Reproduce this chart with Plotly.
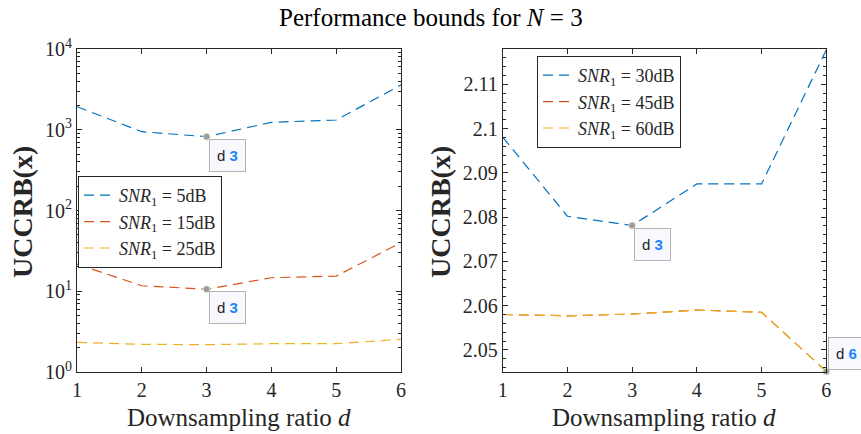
import math
import plotly.graph_objects as go

d = [1, 2, 3, 4, 5, 6]

# left panel (log scale)
snr5 = [1930, 946, 820, 1236, 1320, 3580]
snr15 = [21.7, 11.7, 10.6, 14.7, 15.4, 40]
snr25 = [2.33, 2.2, 2.18, 2.24, 2.24, 2.54]

# right panel
snr30 = [2.0981, 2.0802, 2.0781, 2.0875, 2.0875, 2.1178]
snr45 = [2.0580, 2.0577, 2.0581, 2.0590, 2.0585, 2.0451]
snr60 = [2.0580, 2.0577, 2.0581, 2.0590, 2.0585, 2.0451]

log_ticks = [1, 10, 100, 1000, 10000]
log_labels = ["10<sup>0</sup>", "10<sup>1</sup>", "10<sup>2</sup>", "10<sup>3</sup>", "10<sup>4</sup>"]
lin_ticks = [2.05, 2.06, 2.07, 2.08, 2.09, 2.1, 2.11]
lin_labels = ["2.05", "2.06", "2.07", "2.08", "2.09", "2.1", "2.11"]

blue, red, yellow = "#0072BD", "#D95319", "#EDB120"
serif = "Liberation Serif"
axcol = "#262626"
dash = "10px,6px"

fig = go.Figure()

def line(x, y, name, color, xa, ya, leg):
    fig.add_trace(go.Scatter(x=x, y=y, name=name, mode="lines",
                             line=dict(color=color, width=1.2, dash=dash),
                             xaxis=xa, yaxis=ya, legend=leg))

def lab(db):
    return "<i>SNR</i><sub>1</sub> = %ddB" % db

line(d, snr5, lab(5), blue, "x", "y", "legend")
line(d, snr15, lab(15), red, "x", "y", "legend")
line(d, snr25, lab(25), yellow, "x", "y", "legend")
line(d, snr30, lab(30), blue, "x2", "y2", "legend2")
line(d, snr45, lab(45), red, "x2", "y2", "legend2")
line(d, snr60, lab(60), yellow, "x2", "y2", "legend2")

# datatips
tips = [(2, snr5, "x", "y"), (2, snr15, "x", "y"), (2, snr30, "x2", "y2"), (5, snr60, "x2", "y2")]
for i, ys, xa, ya in tips:
    fig.add_trace(go.Scatter(x=[d[i]], y=[ys[i]], mode="markers", showlegend=False,
                             marker=dict(color="#9c9c9c", size=7, line=dict(color="#e8e8d8", width=1)),
                             xaxis=xa, yaxis=ya, cliponaxis=False))
    top = i == 5
    fig.add_annotation(x=d[i], y=(math.log10(ys[i]) if ya == "y" else ys[i]),
                       xref=xa, yref=ya, showarrow=False,
                       text="d <b><span style='color:#1a85ff'>%d</span></b>" % d[i],
                       font=dict(family="Liberation Sans", size=15, color="#222"),
                       xanchor="left", yanchor="bottom" if top else "top",
                       xshift=2, yshift=2 if top else -2,
                       bgcolor="#f8f8ff", bordercolor="#b4b4b4", borderwidth=1, borderpad=7)

ax_common = dict(showline=True, linecolor=axcol, linewidth=1, mirror="allticks", automargin=False,
                 ticks="inside", ticklen=5, tickcolor=axcol, showgrid=False, zeroline=False,
                 tickfont=dict(family=serif, size=20, color=axcol))

fig.update_layout(
    width=861, height=434, margin=dict(l=0, r=0, t=0, b=0, autoexpand=False),
    plot_bgcolor="white", paper_bgcolor="white",
    xaxis=dict(domain=[77 / 861, 401 / 861], range=[1, 6], tickvals=d, anchor="y", **ax_common),
    yaxis=dict(domain=[1 - 372 / 434, 1 - 49 / 434], type="log", range=[0, 4],
               tickvals=log_ticks, ticktext=log_labels, anchor="x",
               minor=dict(ticks="inside", ticklen=3, dtick="D1", tickcolor=axcol), **ax_common),
    xaxis2=dict(domain=[502.7 / 861, 826.3 / 861], range=[1, 6], tickvals=d, anchor="y2", **ax_common),
    yaxis2=dict(domain=[1 - 372 / 434, 1 - 49 / 434], range=[2.045, 2.118],
                tickvals=lin_ticks, ticktext=lin_labels, anchor="x2",
                minor=dict(ticks="inside", ticklen=3, dtick=0.002, tick0=2.0, tickcolor=axcol), **ax_common),
    legend=dict(x=78 / 861, y=1 - 176 / 434, xanchor="left", yanchor="top",
                bgcolor="white", bordercolor=axcol, borderwidth=1, entrywidth=172,
                font=dict(family=serif, size=18, color=axcol), tracegroupgap=0),
    legend2=dict(x=537 / 861, y=1 - 56 / 434, xanchor="left", yanchor="top",
                 bgcolor="white", bordercolor=axcol, borderwidth=1, entrywidth=172,
                 font=dict(family=serif, size=18, color=axcol), tracegroupgap=0),
)

# titles
fig.add_annotation(x=0.5, y=1 - 17 / 434, xref="paper", yref="paper", showarrow=False,
                   xanchor="center", yanchor="middle",
                   text="Performance bounds for <i>N</i> = 3",
                   font=dict(family=serif, size=25, color="black"))
for xc in [239 / 861, 664 / 861]:
    fig.add_annotation(x=xc, y=1 - 417 / 434, xref="paper", yref="paper", showarrow=False,
                       xanchor="center", yanchor="middle",
                       text="Downsampling ratio <i>d</i>",
                       font=dict(family=serif, size=25, color=axcol))
for xc in [22 / 861, 440 / 861]:
    fig.add_annotation(x=xc, y=1 - 212 / 434, xref="paper", yref="paper", showarrow=False,
                       xanchor="center", yanchor="middle",
                       text="<b>UCCRB(x)</b>", textangle=-90,
                       font=dict(family=serif, size=28, color=axcol))

# page body has a default 8px margin; drop it so the figure sits at the window origin
fig.write_html("out.html", config={"displayModeBar": False},
               post_script="document.body.style.margin='0';")
